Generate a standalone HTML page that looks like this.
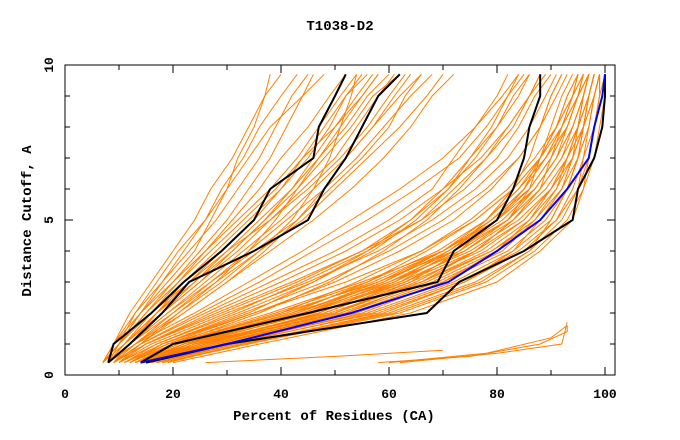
<!DOCTYPE html>
<html><head><meta charset="utf-8"><style>
body{margin:0;background:#fff}
svg{display:block;font-family:"Liberation Mono",monospace}
</style></head><body>
<svg id="chart" width="680" height="440" viewBox="0 0 680 440">
<text x="340" y="30" text-anchor="middle" font-size="14" font-weight="bold">T1038-D2</text>
<g id="plot"></g>
<g id="axes"></g>
<text x="334" y="420" text-anchor="middle" font-size="14" font-weight="bold">Percent of Residues (CA)</text>
<text transform="translate(31,221) rotate(-90)" text-anchor="middle" font-size="14" font-weight="bold">Distance Cutoff, A</text>
</svg>
<script>
const levels=[0.4,1,2,3,4,5,6,7,8,9,9.7];
const xTicks=[0,20,40,60,80,100];
const yTicks=[0,5,10];
const orangeCurves=[
[13,22,45,62,75,84,90,93,95,97,98],[14,25,50,66,78,86,91,94,96,97,98],[15,28,54,70,82,89,93,95,96,98,99],
[12,20,40,58,72,82,88,92,94,96,97],[16,30,58,74,85,91,94,96,97,98,99],[14,24,48,64,77,85,90,93,95,96,97],
[13,21,42,60,74,83,89,93,95,97,98],[17,32,60,76,86,92,95,97,98,99,99],[12,19,38,55,70,80,87,91,94,96,97],
[15,27,52,68,80,88,92,95,96,97,98],[18,34,62,78,87,93,96,97,98,99,100],[14,23,46,63,76,85,90,94,96,97,98],
[13,22,44,61,73,82,86,88,90,92,94],[16,29,56,72,83,90,93,95,97,98,99],[20,36,64,80,88,94,96,98,99,100,100],
[12,18,35,52,66,76,83,88,92,95,96],[15,26,50,65,76,83,88,90,92,94,95],[14,25,47,62,72,78,83,86,88,90,92],
[17,31,57,73,84,91,95,96,98,99,99],[13,20,41,57,70,79,85,89,92,94,95],
[16,27,53,69,81,87,91,93,95,96,97],[19,33,61,77,86,90,93,95,96,97,98],[14,26,51,67,79,87,92,94,95,96,97],
[15,24,49,66,79,88,93,95,97,98,99],[13,23,43,59,71,80,86,90,93,95,96],
[14,22,43,58,70,78,84,88,91,93,95],[15,25,48,63,74,82,87,91,94,96,97],[16,28,52,66,76,83,88,92,95,97,98],
[13,21,40,54,66,75,82,87,91,94,96],[17,30,55,70,80,86,90,93,96,98,99],[12,20,39,56,69,78,84,89,93,95,97],
[15,26,47,61,71,79,85,89,92,95,96],[14,24,45,60,72,81,87,91,93,95,97],[18,33,59,74,83,88,92,94,96,97,98],
[16,26,50,64,73,80,85,88,91,93,95],[13,22,42,56,67,76,83,88,91,94,96],[15,23,44,59,70,79,86,90,93,95,97],
[10,16,30,45,58,68,76,82,86,89,91],[9,15,27,40,52,62,70,77,82,86,88],[11,18,33,48,60,70,78,84,88,91,93],
[10,15,28,42,55,66,74,80,84,87,90],[9,14,25,36,46,56,65,73,78,82,85],[12,18,34,46,56,64,70,75,80,84,86],
[8,13,24,34,44,53,62,70,76,81,84],[11,17,31,44,56,66,72,78,83,86,88],
[10,17,32,46,57,65,71,76,80,83,86],[11,19,35,50,62,72,79,84,88,90,92],[9,15,29,43,55,64,71,75,79,82,84],
[12,20,36,49,59,67,73,78,82,86,89],[10,14,26,38,50,60,68,72,76,80,82],
[8,11,17,22,28,34,40,45,49,52,55],[7,10,15,20,26,32,38,43,47,51,54],[8,12,18,24,30,36,42,47,52,56,60],
[7,9,13,18,23,28,32,36,39,42,45],[8,12,19,26,33,40,46,52,57,62,66],[7,10,16,23,30,38,45,51,56,60,63],
[8,13,20,27,34,41,48,54,59,64,68],[7,9,12,16,20,24,27,31,34,37,40],[8,11,16,21,26,31,36,40,45,49,52],
[9,14,22,30,38,46,53,59,64,68,72],[7,9,14,19,24,27,30,32,35,37,38],[8,12,17,23,29,35,40,44,48,52,56],
[9,13,21,29,36,44,50,56,62,67,70],[7,10,14,18,22,26,30,34,38,44,48],[8,12,20,28,36,42,46,49,51,53,54],
[8,11,18,25,31,37,43,48,53,57,62],[7,10,15,21,27,33,39,44,50,55,58],[9,12,19,27,35,43,49,55,60,63,66],
[8,10,14,20,25,30,34,38,41,44,46],[8,12,18,25,32,38,44,50,54,58,61],[7,11,17,24,31,37,42,46,50,54,57],
[9,14,21,28,34,39,43,47,51,55,58],[8,13,22,30,37,43,48,52,57,61,64],[7,10,13,17,21,26,29,33,36,40,43]
];
const extraX=[[58,75,88,93,93],[60,78,90,93],[26,50,70],[62,80,92,93]];
const extraY=[[0.4,0.6,1.0,1.4,1.6],[0.4,0.7,1.2,1.6],[0.4,0.6,0.8],[0.4,0.7,1.0,1.7]];
const blackCurves=[
[8,9,16,22,29,35,38,46,47,50,52],
[8,12,18,23,35,45,48,52,55,58,62],
[14,20,45,69,72,80,83,85,86,88,88],
[15,30,67,73,85,94,95,98,99.5,100,100]
];
const blueCurve=[14,30,53,71,80,88,93,97,98,99.5,100];
const NS='http://www.w3.org/2000/svg';
const X=p=>65+5.4*p, Y=v=>375-31*v;
const plot=document.getElementById('plot'), axes=document.getElementById('axes');
function poly(xs,ys,color,w,name){
  const el=document.createElementNS(NS,'polyline');
  el.setAttribute('points',xs.map((x,i)=>X(x)+','+Y(ys[i])).join(' '));
  el.setAttribute('fill','none');el.setAttribute('stroke',color);el.setAttribute('stroke-width',w);
  
  
  plot.appendChild(el);
}
orangeCurves.forEach(c=>poly(c,levels,'#ff8000',1,'model-curve'));
extraX.forEach((c,i)=>poly(c,extraY[i],'#ff8000',1,'model-curve'));
blackCurves.forEach(c=>poly(c,levels,'#000',2,'highlight-curve'));
poly(blueCurve,levels,'#0000ff',2,'best-model-curve');
function ln(x1,y1,x2,y2,w){const l=document.createElementNS(NS,'line');
 l.setAttribute('x1',x1);l.setAttribute('y1',y1);l.setAttribute('x2',x2);l.setAttribute('y2',y2);
 l.setAttribute('stroke','#000');l.setAttribute('stroke-width',w||1);
 
 
 axes.appendChild(l);}
const r=document.createElementNS(NS,'rect');
r.setAttribute('x',65);r.setAttribute('y',65);r.setAttribute('width',550);r.setAttribute('height',310);
r.setAttribute('fill','none');r.setAttribute('stroke','#000');


axes.appendChild(r);
for(let p=0;p<=100;p+=10){const len=p%20===0?8:5;ln(X(p),375,X(p),375-len);ln(X(p),65,X(p),65+len);}
for(let v=0;v<=10;v++){const len=v%5===0?8:5;ln(65,Y(v),65+len,Y(v));ln(615,Y(v),615-len,Y(v));}
xTicks.forEach(t=>{const e=document.createElementNS(NS,'text');e.setAttribute('x',X(t));e.setAttribute('y',398);
 e.setAttribute('text-anchor','middle');e.setAttribute('font-size','13');e.setAttribute('font-weight','bold');e.textContent=t;
 
 
 axes.appendChild(e);});
yTicks.forEach(t=>{const e=document.createElementNS(NS,'text');
 e.setAttribute('transform','translate(53,'+Y(t)+') rotate(-90)');
 e.setAttribute('text-anchor','middle');e.setAttribute('font-size','13');e.setAttribute('font-weight','bold');e.textContent=t;
 
 
 axes.appendChild(e);});
</script>
</body></html>
